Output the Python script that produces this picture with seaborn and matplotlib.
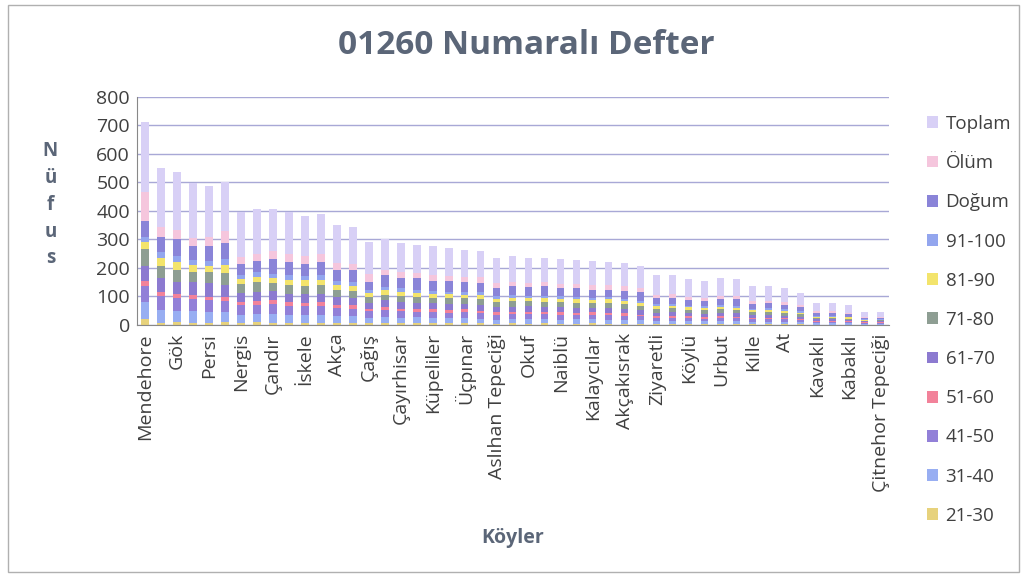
import matplotlib
matplotlib.use("Agg")
import pandas as pd
import matplotlib.pyplot as plt
import seaborn as sns
from matplotlib.patches import Patch, Rectangle

# every other bar carries a label in the original chart
koy_labels = ["Mendehore", "", "Gök", "", "Persi", "", "Nergis", "", "Çandır", "",
              "İskele", "", "Akça", "", "Çağış", "", "Çayırhisar", "", "Küpeliler", "",
              "Üçpınar", "", "Aslıhan Tepeciği", "", "Okuf", "", "Naiblü", "",
              "Kalaycılar", "", "Akçakısrak", "", "Ziyaretli", "", "Köylü", "",
              "Urbut", "", "Kılle", "", "At", "", "Kavaklı", "", "Kabaklı", "",
              "Çitnehor Tepeciği"]

y2130 = [20, 8, 10, 8, 7, 9, 6, 10, 8, 7, 6, 8, 6, 7, 5, 6, 5, 6, 5, 5, 6, 5, 4, 5,
         4, 5, 4, 4, 5, 4, 4, 4, 3, 3, 3, 3, 3, 3, 2, 3, 2, 2, 1, 1, 1, 1, 1]
y3140 = [60, 45, 40, 40, 38, 35, 30, 28, 30, 28, 30, 28, 25, 24, 20, 22, 20, 20, 18, 18,
         18, 16, 14, 15, 16, 15, 14, 15, 14, 14, 13, 12, 10, 10, 10, 9, 10, 9, 8, 8,
         8, 7, 5, 5, 4, 3, 3]
y4150 = [55, 50, 45, 42, 42, 40, 35, 32, 35, 32, 30, 30, 28, 26, 22, 24, 22, 20, 22, 20,
         20, 20, 18, 18, 18, 17, 18, 16, 16, 16, 15, 14, 12, 12, 11, 10, 11, 11, 9, 9,
         9, 8, 5, 5, 5, 3, 3]
y5160 = [20, 12, 15, 14, 12, 15, 10, 12, 14, 12, 10, 14, 10, 12, 8, 10, 10, 9, 10, 8,
         10, 8, 8, 8, 7, 8, 8, 8, 9, 7, 8, 6, 6, 7, 6, 7, 6, 6, 5, 5,
         4, 4, 3, 3, 2, 2, 2]
y6170 = [50, 48, 40, 45, 48, 42, 32, 35, 32, 30, 32, 30, 28, 26, 22, 24, 22, 22, 20, 22,
         20, 20, 18, 18, 20, 18, 18, 17, 16, 18, 16, 15, 12, 12, 11, 10, 12, 11, 10, 9,
         9, 8, 5, 6, 5, 3, 3]
y7180 = [60, 45, 42, 38, 40, 40, 30, 32, 28, 30, 28, 30, 26, 24, 22, 20, 22, 20, 20, 22,
         20, 22, 18, 20, 18, 18, 18, 18, 16, 16, 16, 15, 12, 14, 12, 12, 12, 12, 10, 10,
         10, 8, 6, 5, 5, 3, 4]
y8190 = [25, 28, 30, 22, 20, 30, 18, 20, 18, 20, 22, 18, 16, 18, 14, 16, 15, 14, 14, 12,
         12, 14, 12, 12, 10, 12, 12, 11, 12, 14, 12, 10, 10, 9, 8, 8, 9, 8, 7, 8,
         6, 6, 4, 4, 4, 3, 2]
y91100 = [20, 18, 20, 18, 18, 20, 14, 16, 15, 15, 14, 16, 14, 14, 10, 12, 12, 12, 10, 10,
          10, 10, 8, 9, 9, 10, 9, 9, 8, 8, 8, 8, 7, 7, 6, 6, 7, 7, 6, 6,
          6, 5, 3, 3, 3, 2, 2]
dogum = [55, 55, 60, 50, 52, 58, 40, 38, 52, 45, 42, 46, 40, 40, 28, 40, 38, 40, 36, 38,
         34, 32, 28, 30, 30, 34, 28, 30, 28, 26, 26, 30, 22, 22, 20, 18, 20, 22, 16, 18,
         16, 14, 10, 9, 8, 5, 5]
olum = [100, 35, 30, 28, 32, 40, 22, 24, 26, 28, 26, 28, 25, 22, 26, 20, 20, 18, 20, 18,
        18, 20, 18, 17, 16, 15, 16, 15, 16, 16, 18, 14, 12, 13, 12, 12, 12, 11, 10, 9,
        9, 8, 5, 6, 5, 3, 3]
toplam = [247, 206, 206, 193, 179, 171, 158, 158, 150, 148, 142, 140, 134, 129, 115, 108,
          102, 99, 101, 97, 96, 93, 90, 90, 88, 84, 85, 85, 84, 83, 80, 77, 68, 65, 61,
          59, 61, 60, 53, 51, 49, 42, 29, 28, 26, 16, 16]

# top of the stack first, same order as the legend
seri_adlari = ["Toplam", "Ölüm", "Doğum", "91-100", "81-90", "71-80",
               "61-70", "51-60", "41-50", "31-40", "21-30"]
seri_degerleri = [toplam, olum, dogum, y91100, y8190, y7180,
                  y6170, y5160, y4150, y3140, y2130]
renkler = ["#d8d0f6", "#f5c6dd", "#8a84d8", "#93a6ee", "#f3e46c", "#8e9e93",
           "#8c7ad0", "#f2829a", "#9280d8", "#98aef2", "#e7d27c"]
palette = dict(zip(seri_adlari, renkler))

rows = []
for ad, vals in zip(seri_adlari, seri_degerleri):
    for i, v in enumerate(vals):
        rows.append({"koy": i, "grup": ad, "nufus": v})
df = pd.DataFrame(rows)

sns.set_style("white")
plt.rcParams["font.family"] = ["Open Sans", "DejaVu Sans"]

fig = plt.figure(figsize=(10.27, 5.77), dpi=100)
ax = fig.add_axes([0.1334, 0.437, 0.732, 0.395])

ax.yaxis.grid(True, color="#a8a8d6", linewidth=1)
ax.set_axisbelow(True)

sns.histplot(data=df, x="koy", hue="grup", weights="nufus", multiple="stack",
             discrete=True, shrink=0.45, hue_order=seri_adlari, palette=palette,
             linewidth=0, alpha=1, legend=False, ax=ax)

ax.set_xlim(-0.5, len(koy_labels) - 0.5)
ax.set_ylim(0, 800)
ax.set_yticks(range(0, 801, 100))
ax.tick_params(axis="y", labelsize=14, colors="#404040", length=0, pad=5)

ax.set_xticks(range(len(koy_labels)))
ax.set_xticklabels(koy_labels, rotation=90, fontsize=14, color="#404040")
ax.set_xticks([i + 0.5 for i in range(-1, len(koy_labels))], minor=True)
ax.tick_params(axis="x", which="major", length=0, pad=6)
ax.tick_params(axis="x", which="minor", length=4, color="#888888")

for s in ["top", "right"]:
    ax.spines[s].set_visible(False)
for s in ["left", "bottom"]:
    ax.spines[s].set_color("#888888")

ax.set_xlabel("")
ax.set_ylabel("")

fig.text(0.512, 0.922, "01260 Numaralı Defter", ha="center", va="center",
         fontsize=24, fontweight="bold", color="#5b6678")
fig.text(0.049, 0.645, "N\nü\nf\nu\ns", ha="center", va="center",
         fontsize=13.5, fontweight="bold", color="#5b6678", linespacing=1.45)
fig.text(0.499, 0.068, "Köyler", ha="center", va="center",
         fontsize=14, fontweight="bold", color="#5b6678")

handles = [Patch(facecolor=c, edgecolor="none") for c in renkler]
fig.legend(handles, seri_adlari, loc="upper left", bbox_to_anchor=(0.886, 0.83),
           frameon=False, fontsize=13.5, labelcolor="#404040", handlelength=0.6,
           handleheight=0.6, handletextpad=0.4, labelspacing=1.13)

fig.patches.append(Rectangle((0.008, 0.008), 0.984, 0.984, transform=fig.transFigure,
                             fill=False, edgecolor="#b0b0b0", linewidth=1))

plt.savefig("out.png", dpi=100)
